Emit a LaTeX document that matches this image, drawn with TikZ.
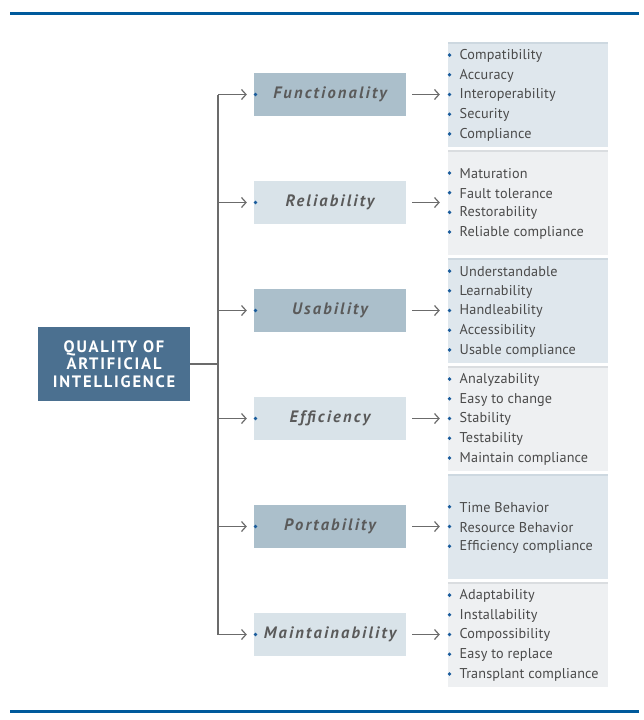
\documentclass[tikz,border=0pt]{standalone}
\usepackage{fontspec}
\setmainfont{PT Sans}
\newfontfamily\itemfont[LetterSpace=1]{PT Sans}
\newfontfamily\boxlabfont[LetterSpace=13]{PT Sans}
\newfontfamily\qualfont[LetterSpace=11]{PT Sans}
\usetikzlibrary{arrows.meta}
\definecolor{topblue}{HTML}{005A9C}
\definecolor{mainfill}{HTML}{4B7090}
\definecolor{darkbox}{HTML}{ABBFCB}
\definecolor{lightbox}{HTML}{D9E3E9}
\definecolor{panelA}{HTML}{DFE7ED}
\definecolor{stripeA}{HTML}{CDD8E0}
\definecolor{panelB}{HTML}{EEF0F2}
\definecolor{stripeB}{HTML}{DADDE0}
\definecolor{arrgray}{HTML}{6B6B6B}
\definecolor{itemtext}{HTML}{4A4A4A}
\definecolor{labtext}{HTML}{5A5A5A}
\definecolor{bulblue}{HTML}{1A5C9C}
\newcommand{\itemlist}[2]{%
  \foreach \txt [count=\j] in {#2}{
    \pgfmathsetmacro{\yy}{94.5+108*(#1-1)+(\j-(\nitems+1)/2)*19.7}
    \node[bul] at (449.5,\yy) {};
    \node[itemnode] (it#1-\j) at (459.5,\yy+0.8) {\txt};
  }}
\begin{document}
\begin{tikzpicture}[x=1pt,y=-1pt,
  mainbox/.style={fill=mainfill,text=white,minimum width=152pt,minimum height=74pt,inner sep=0pt,align=center,
    font=\qualfont\bfseries\fontsize{16.5}{17.5}\selectfont},
  catbox/.style={minimum width=152pt,minimum height=43pt,inner sep=0pt,text=labtext,
    font=\boxlabfont\bfseries\itshape\fontsize{16.5}{18}\selectfont},
  panelbox/.style={minimum width=160pt,minimum height=105pt,inner sep=0pt},
  itemnode/.style={anchor=west,inner sep=0pt,text=itemtext,font=\itemfont\fontsize{14.2}{16}\selectfont},
  bul/.style={fill=bulblue,draw=none,circle,inner sep=0pt,minimum size=3.8pt},
  conn/.style={draw=arrgray,line width=1.2pt},
  arr/.style={conn,-{Straight Barb[length=4.5pt,width=10pt,line width=1.2pt]}}
]
\useasboundingbox (0,0) rectangle (643,720);
\fill[topblue] (10,12) rectangle (639,15);
\fill[topblue] (10,710) rectangle (639,713);

\node[mainbox] (q) at (114,364) {QUALITY OF\\ARTIFICIAL\\INTELLIGENCE};
\coordinate (tmid) at (218,364);
\coordinate (ttop) at (218,94.5);
\coordinate (tbot) at (218,634.5);
\draw[conn] (q.east) -- (tmid);
\draw[conn] (ttop) -- (tbot);

\foreach \i/\lab/\col/\pcol/\scol in {
  1/Functionality/darkbox/panelA/stripeA,
  2/Reliability/lightbox/panelB/stripeB,
  3/Usability/darkbox/panelA/stripeA,
  4/Efficiency/lightbox/panelB/stripeB,
  5/Portability/darkbox/panelA/stripeA,
  6/Maintainability/lightbox/panelB/stripeB}{
  \pgfmathsetmacro{\yc}{94.5+108*(\i-1)}
  \node[catbox,fill=\col] (b\i) at (330,\yc) {\lab};
  \node[bul] (bd\i) at (255.5,\yc) {};
  \coordinate (t\i) at (218,\yc);
  \draw[arr,shorten >=7pt] (t\i) -- (b\i.west);
  \node[panelbox,fill=\pcol] (p\i) at (528,\yc) {};
  \fill[\scol] (p\i.north west) rectangle ([yshift=-2pt]p\i.north east);
  \draw[arr,shorten <=6pt,shorten >=8pt] (b\i.east) -- (p\i.west);
}

\def\nitems{5}
\itemlist{1}{Compatibility,Accuracy,Interoperability,Security,Compliance}
\def\nitems{4}
\itemlist{2}{Maturation,Fault tolerance,Restorability,Reliable compliance}
\def\nitems{5}
\itemlist{3}{Understandable,Learnability,Handleability,Accessibility,Usable compliance}
\itemlist{4}{Analyzability,Easy to change,Stability,Testability,Maintain compliance}
\def\nitems{3}
\itemlist{5}{Time Behavior,Resource Behavior,Efficiency compliance}
\def\nitems{5}
\itemlist{6}{Adaptability,Installability,Compossibility,Easy to replace,Transplant compliance}
\end{tikzpicture}
\end{document}
